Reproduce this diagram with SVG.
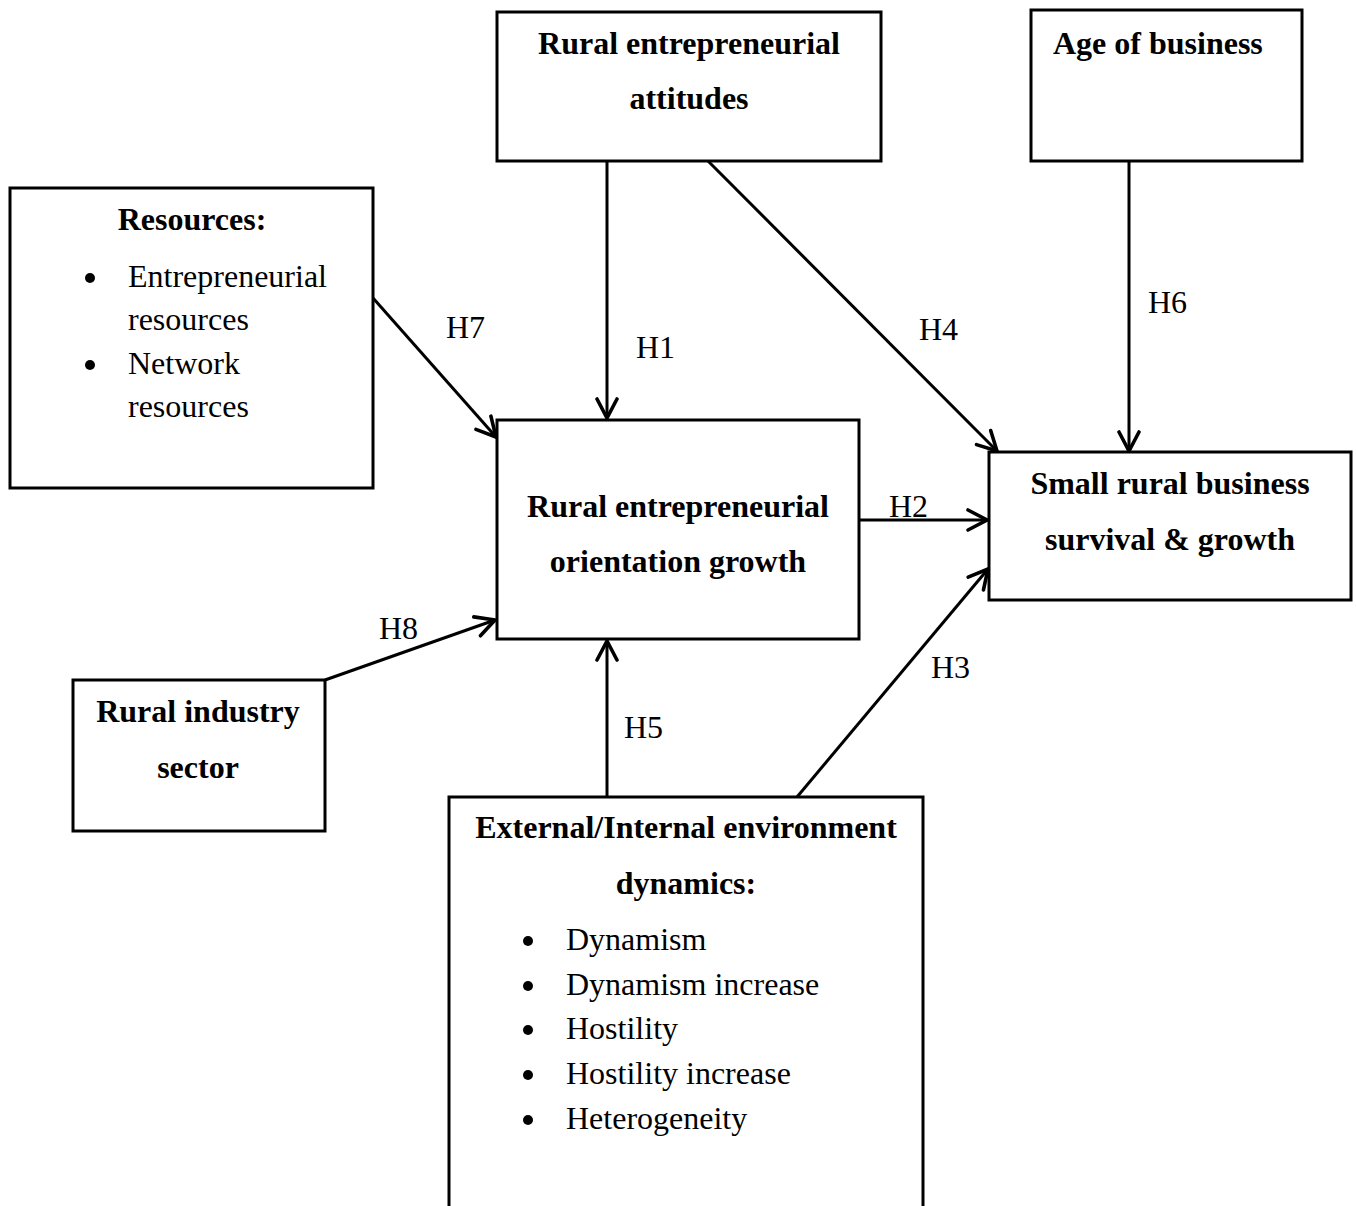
<svg xmlns="http://www.w3.org/2000/svg" width="1356" height="1206" viewBox="0 0 1356 1206">
  <defs>
    <marker id="arrow" viewBox="0 0 26 26" refX="23" refY="13" markerWidth="26" markerHeight="26" markerUnits="userSpaceOnUse" orient="auto">
      <polyline points="4,3 23,13 4,23" fill="none" stroke="#000" stroke-width="3.6" stroke-linecap="round" stroke-linejoin="miter"/>
    </marker>
  </defs>
  <style>
    .box { fill: #fff; stroke: #000; stroke-width: 3; }
    .t { font-family: "Liberation Serif", "Times New Roman", serif; font-size: 32px; fill: #000; }
    .b { font-weight: bold; }
    .c { text-anchor: middle; }
    .edge { stroke: #000; stroke-width: 3; fill: none; marker-end: url(#arrow); }
    .dot { fill: #000; }
  </style>
  <rect width="1356" height="1206" fill="#fff"/>

  <g id="connectors">
    <line class="edge" x1="607" y1="161" x2="607" y2="418"/>
    <line class="edge" x1="708" y1="161" x2="997" y2="451"/>
    <line class="edge" x1="1129" y1="161" x2="1129" y2="451"/>
    <line class="edge" x1="373" y1="298" x2="496" y2="437"/>
    <line class="edge" x1="859" y1="520" x2="987" y2="520"/>
    <line class="edge" x1="325" y1="680" x2="495" y2="620"/>
    <line class="edge" x1="607" y1="797" x2="607" y2="641"/>
    <line class="edge" x1="797" y1="797" x2="988" y2="569"/>
    <text class="t" x="446" y="338">H7</text>
    <text class="t" x="636" y="358">H1</text>
    <text class="t" x="919" y="340">H4</text>
    <text class="t" x="1148" y="313">H6</text>
    <text class="t" x="889" y="517">H2</text>
    <text class="t" x="379" y="639">H8</text>
    <text class="t" x="624" y="738">H5</text>
    <text class="t" x="931" y="678">H3</text>
  </g>

  <g id="attitudes">
    <rect class="box" x="497" y="12" width="384" height="149"/>
    <text class="t b c" x="689" y="54">Rural entrepreneurial</text>
    <text class="t b c" x="689" y="109">attitudes</text>
  </g>

  <g id="age">
    <rect class="box" x="1031" y="10" width="271" height="151"/>
    <text class="t b" x="1053" y="54">Age of business</text>
  </g>

  <g id="resources">
    <rect class="box" x="10" y="188" width="363" height="300"/>
    <text class="t b c" x="192" y="230">Resources:</text>
    <circle class="dot" cx="90" cy="278" r="5"/>
    <text class="t" x="128" y="287">Entrepreneurial</text>
    <text class="t" x="128" y="330">resources</text>
    <circle class="dot" cx="90" cy="365" r="5"/>
    <text class="t" x="128" y="374">Network</text>
    <text class="t" x="128" y="417">resources</text>
  </g>

  <g id="orientation">
    <rect class="box" x="497" y="420" width="362" height="219"/>
    <text class="t b c" x="678" y="517">Rural entrepreneurial</text>
    <text class="t b c" x="678" y="572">orientation growth</text>
  </g>

  <g id="survival">
    <rect class="box" x="989" y="452" width="362" height="148"/>
    <text class="t b c" x="1170" y="494">Small rural business</text>
    <text class="t b c" x="1170" y="550">survival &amp; growth</text>
  </g>

  <g id="industry">
    <rect class="box" x="73" y="680" width="252" height="151"/>
    <text class="t b c" x="198" y="722">Rural industry</text>
    <text class="t b c" x="198" y="778">sector</text>
  </g>

  <g id="environment">
    <rect class="box" x="449" y="797" width="474" height="420"/>
    <text class="t b c" x="686" y="838">External/Internal environment</text>
    <text class="t b c" x="686" y="894">dynamics:</text>
    <circle class="dot" cx="528" cy="941" r="5"/>
    <text class="t" x="566" y="950">Dynamism</text>
    <circle class="dot" cx="528" cy="986" r="5"/>
    <text class="t" x="566" y="995">Dynamism increase</text>
    <circle class="dot" cx="528" cy="1030" r="5"/>
    <text class="t" x="566" y="1039">Hostility</text>
    <circle class="dot" cx="528" cy="1075" r="5"/>
    <text class="t" x="566" y="1084">Hostility increase</text>
    <circle class="dot" cx="528" cy="1120" r="5"/>
    <text class="t" x="566" y="1129">Heterogeneity</text>
  </g>
</svg>
